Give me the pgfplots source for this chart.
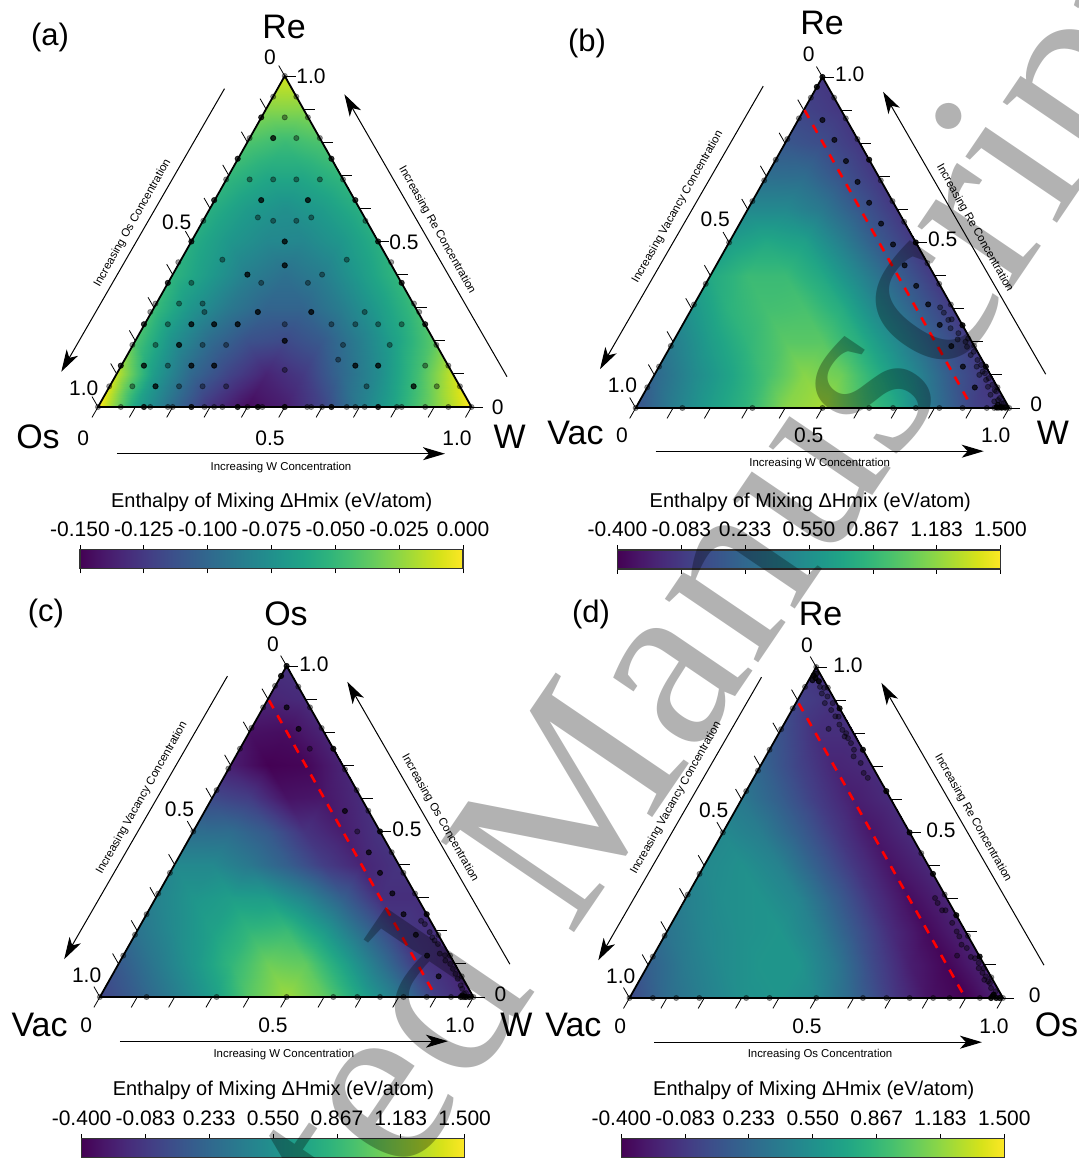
\documentclass[border=0pt]{standalone}
\usepackage{fontspec}
\setmainfont{Liberation Sans}
\newfontfamily\wmfont{Liberation Serif}
\usepackage{pgfplots}
\usepackage{pgfplotstable}
\pgfplotsset{compat=1.18}
\usetikzlibrary{arrows.meta}
\definecolor{wm}{gray}{0.70}

% triangular lattice (x along the base, y = top component); enthalpy in eV/atom per panel
\pgfplotstableread{
x y va vb vc vd
0 0 0 .08 -.02 .02
.1 0 -.063 .40 .17 .27
.2 0 -.098 .65 .40 .42
.3 0 -.128 .85 .65 .55
.4 0 -.146 1.16 1.01 .59
.5 0 -.138 1.25 1.22 .49
.6 0 -.12 .97 1.04 .21
.7 0 -.087 .74 .70 -.08
.8 0 -.06 .32 .36 -.31
.9 0 -.03 -.02 -.06 -.40
1 0 0 -.13 -.21 -.21
.05 .1 -.015 .23 .13 .17
.15 .1 -.068 .49 .36 .38
.25 .1 -.1 .70 .59 .51
.35 .1 -.12 .93 .85 .59
.45 .1 -.135 1.16 1.08 .59
.55 .1 -.125 1.08 1.04 .36
.65 .1 -.1 .78 .70 .02
.75 .1 -.078 .46 .32 -.25
.85 .1 -.048 .11 -.08 -.38
.95 .1 -.012 -.12 -.21 -.21
.1 .2 -.042 .40 .32 .32
.2 .2 -.075 .65 .51 .47
.3 .2 -.098 .85 .68 .55
.4 .2 -.113 1.01 .85 .59
.5 .2 -.117 1.01 .89 .42
.6 .2 -.108 .78 .63 .11
.7 .2 -.087 .49 .28 -.17
.8 .2 -.063 .17 -.08 -.36
.9 .2 -.038 -.08 -.15 -.21
.15 .3 -.048 .59 .44 .42
.25 .3 -.072 .82 .59 .53
.35 .3 -.09 .93 .66 .57
.45 .3 -.102 .95 .65 .46
.55 .3 -.102 .78 .46 .17
.65 .3 -.087 .47 .17 -.12
.75 .3 -.068 .17 -.15 -.34
.85 .3 -.048 -.08 -.15 -.21
.2 .4 -.053 .74 .49 .49
.3 .4 -.069 .89 .49 .55
.4 .4 -.086 .89 .36 .44
.5 .4 -.095 .74 .17 .17
.6 .4 -.087 .46 -.06 -.10
.7 .4 -.069 .17 -.21 -.31
.8 .4 -.051 -.08 -.12 -.19
.25 .5 -.057 .65 .28 .49
.35 .5 -.071 .74 .27 .40
.45 .5 -.08 .68 .13 .17
.55 .5 -.081 .42 -.12 -.08
.65 .5 -.071 .13 -.25 -.29
.75 .5 -.056 -.10 -.12 -.17
.3 .6 -.056 .49 .02 .36
.4 .6 -.068 .49 -.06 .17
.5 .6 -.075 .36 -.31 -.06
.6 .6 -.068 .11 -.29 -.25
.7 .6 -.056 -.10 -.17 -.17
.35 .7 -.051 .28 -.25 .21
.45 .7 -.06 .27 -.40 -.02
.55 .7 -.06 .08 -.38 -.21
.65 .7 -.051 -.10 -.21 -.17
.4 .8 -.042 .11 -.32 .08
.5 .8 -.048 .04 -.34 -.15
.6 .8 -.042 -.10 -.21 -.15
.45 .9 -.027 -.02 -.21 -.04
.55 .9 -.027 -.10 -.17 -.13
.5 1 -.01 -.10 -.13 -.12
}\lattice

\pgfplotsset{conn/.style={table/row sep=\\,patch table={
0 1 11\\1 2 12\\2 3 13\\3 4 14\\4 5 15\\5 6 16\\6 7 17\\7 8 18\\8 9 19\\9 10 20\\
1 12 11\\2 13 12\\3 14 13\\4 15 14\\5 16 15\\6 17 16\\7 18 17\\8 19 18\\9 20 19\\
11 12 21\\12 13 22\\13 14 23\\14 15 24\\15 16 25\\16 17 26\\17 18 27\\18 19 28\\19 20 29\\
12 22 21\\13 23 22\\14 24 23\\15 25 24\\16 26 25\\17 27 26\\18 28 27\\19 29 28\\
21 22 30\\22 23 31\\23 24 32\\24 25 33\\25 26 34\\26 27 35\\27 28 36\\28 29 37\\
22 31 30\\23 32 31\\24 33 32\\25 34 33\\26 35 34\\27 36 35\\28 37 36\\
30 31 38\\31 32 39\\32 33 40\\33 34 41\\34 35 42\\35 36 43\\36 37 44\\
31 39 38\\32 40 39\\33 41 40\\34 42 41\\35 43 42\\36 44 43\\
38 39 45\\39 40 46\\40 41 47\\41 42 48\\42 43 49\\43 44 50\\
39 46 45\\40 47 46\\41 48 47\\42 49 48\\43 50 49\\
45 46 51\\46 47 52\\47 48 53\\48 49 54\\49 50 55\\
46 52 51\\47 53 52\\48 54 53\\49 55 54\\
51 52 56\\52 53 57\\53 54 58\\54 55 59\\
52 57 56\\53 58 57\\54 59 58\\
56 57 60\\57 58 61\\58 59 62\\57 61 60\\58 62 61\\
60 61 63\\61 62 64\\61 64 63\\63 64 65\\
}}}

% faint points
\pgfplotstableread{
x y
.5 1
.469 .9375
.531 .9375
.437 .875
.5 .875
.562 .875
.406 .8125
.469 .8125
.531 .8125
.594 .8125
.374 .75
.625 .75
.343 .6875
.406 .6875
.469 .6875
.531 .6875
.594 .6875
.656 .6875
.311 .625
.437 .625
.562 .625
.689 .625
.282 .5625
.469 .5625
.531 .5625
.716 .5625
.428 .5726
.571 .5726
.25 .5
.5 .5
.75 .5
.215 .4375
.333 .445
.666 .445
.5 .428
.785 .4375
.4 .4
.6 .4
.187 .375
.25 .375
.437 .375
.562 .375
.813 .375
.154 .3125
.217 .3125
.28 .3125
.846 .3125
.14 .287
.285 .287
.428 .287
.571 .287
.714 .287
.86 .287
.123 .25
.187 .25
.25 .25
.311 .25
.374 .25
.5 .25
.625 .25
.689 .25
.75 .25
.813 .25
.876 .25
.092 .1875
.154 .1875
.217 .1875
.28 .1875
.343 .1875
.5 .2
.656 .1875
.781 .1875
.906 .1875
.061 .125
.123 .125
.187 .125
.25 .125
.311 .125
.643 .143
.689 .125
.75 .125
.876 .125
.938 .125
.5 .112
.03 .0625
.092 .0625
.154 .0625
.217 .0625
.28 .0625
.343 .0625
.719 .0625
.845 .0625
.907 .0625
.969 .0625
0 0
.061 0
.123 0
.14 0
.187 0
.2 0
.25 0
.285 0
.311 0
.333 0
.374 0
.4 0
.428 0
.44 0
.5 0
.56 0
.571 0
.6 0
.625 0
.666 0
.689 0
.714 0
.75 0
.8 0
.813 0
.876 0
.938 0
1 0
}\ptsA
\pgfplotstableread{
x y
.469 .8125
.437 .625
.562 .625
.5 .5
.25 .5
.75 .5
.5 .428
.4 .4
.187 .375
.813 .375
.374 .75
.625 .75
.311 .625
.689 .625
.437 .875
.123 .25
.25 .25
.374 .25
.311 .25
.876 .25
.217 .1875
.5 .2
.061 .125
.123 .125
.25 .125
.311 .125
.75 .125
.689 .125
.154 .0625
.845 .0625
.428 .287
.571 .287
.123 0
.25 0
.374 0
.428 0
.5 0
.625 0
.75 0
}\darkA

% points of panel b
\pgfplotstableread{
x y
.5 1
.485 .97
.469 .9375
.437 .875
.406 .8125
.375 .75
.344 .6875
.3125 .625
.25 .5
.1875 .375
.156 .3125
.094 .1875
.0625 .125
.031 .0625
0 0
.125 0
.3125 0
.5 0
.625 0
.689 0
.75 0
.813 0
.875 0
.94 0
.96 0
.97 0
.98 0
.99 0
1 0
.5312 .9375
.5625 .875
.5937 .8125
.625 .75
.6562 .6875
.6875 .625
.7187 .5625
.75 .5
.7812 .4375
.8125 .375
.8437 .3125
.875 .25
.9062 .1875
.9375 .125
.9687 .0625
.815 .304
.825 .288
.837 .266
.846 .268
.843 .241
.864 .226
.862 .207
.883 .2
.887 .185
.897 .16
.915 .145
.913 .125
.929 .11
.938 .085
.943 .064
.961 .054
.97 .024
.98 .014
.966 .002
.98 .002
.989 .002
.92 .1
.95 .04
.96 .02
.89 .21
.905 .17
.925 .13
.935 .105
.945 .09
.955 .07
.965 .05
.975 .03
.985 .015
}\ptsB
\pgfplotstableread{
x y
.5 .87
.532 .81
.563 .746
.594 .683
.625 .62
.657 .557
.689 .494
.72 .431
.751 .369
.783 .313
.814 .251
.845 .187
.876 .125
.908 .062
.75 .5
.875 .25
.9375 .125
.625 .75
.5 1
.485 .97
.966 .002
.98 .002
.989 .002
.97 .01
.975 .002
}\darkB

% points of panel c
\pgfplotstableread{
x y
.5 1
.485 .97
.469 .94
.437 .875
.406 .813
.375 .75
.344 .69
.3125 .625
.25 .5
.1875 .375
.156 .3125
.125 .25
.094 .188
.0625 .125
0 0
.125 0
.3125 0
.5 0
.625 0
.689 0
.75 0
.813 0
.875 0
.94 0
.97 0
.98 0
.99 0
1 0
.5312 .9375
.5625 .875
.5937 .8125
.625 .75
.6562 .6875
.6875 .625
.7187 .5625
.75 .5
.7812 .4375
.8125 .375
.8437 .3125
.875 .25
.9062 .1875
.9375 .125
.9687 .0625
.86 .23
.883 .196
.896 .171
.91 .131
.924 .126
.938 .1
.952 .07
.966 .035
.975 .01
.562 .75
.689 .5
.87 .22
.89 .18
.905 .16
.925 .11
.945 .085
.958 .055
.97 .025
.98 .012
}\ptsC
\pgfplotstableread{
x y
.5 .875
.532 .81
.656 .562
.72 .437
.75 .375
.783 .313
.813 .25
.846 .188
.876 .125
.907 .0625
.75 .5
.875 .25
.625 .75
.5 1
.485 .97
.966 0
.98 0
.989 0
.97 .005
.975 0
}\darkC

% points of panel d
\pgfplotstableread{
x y
.5 1
.493 .974
.498 .967
.507 .957
.521 .937
.53 .911
.523 .891
.544 .891
.551 .851
.562 .826
.533 .813
.576 .79
.585 .785
.593 .77
.601 .75
.619 .71
.627 .68
.638 .665
.5312 .9375
.5625 .875
.625 .75
.6875 .625
.75 .5
.7812 .4375
.8125 .375
.8437 .3125
.875 .25
.9062 .1875
.9375 .125
.9687 .0625
.25 .5
.3125 .625
.344 .687
.375 .75
.406 .812
.437 .875
.47 .94
.1875 .375
.156 .3125
.094 .188
.0625 .125
0 0
.0625 0
.125 0
.187 0
.3125 0
.375 0
.5 0
.625 0
.688 0
.75 0
.813 0
.857 0
.938 0
.968 0
.982 0
.991 0
1 0
.818 .302
.825 .287
.837 .265
.846 .265
.864 .227
.876 .201
.883 .186
.889 .161
.903 .151
.914 .124
.877 .128
.935 .106
.945 .076
.954 .065
.968 .03
.975 .01
.925 .12
.935 .09
.948 .09
.96 .05
.95 .055
.965 .045
.98 .02
.51 .94
.515 .92
.54 .87
.56 .85
.57 .81
.58 .8
.6 .73
}\ptsD
\pgfplotstableread{
x y
.493 .974
.498 .967
.5 .98
.49 .96
.507 .957
.5625 .875
.625 .75
.6875 .625
.75 .5
.8125 .375
.875 .25
.9375 .125
.968 0
.982 0
.991 0
.975 .01
.972 .005
}\darkD

\newcommand\lab[4]{\node[font=#3,inner sep=0pt] at ({#1*0.5pt},{(1158-#2)*0.5pt}) {#4};}
\newcommand\tickf{\fontsize{10.5}{12}\selectfont}
\newcommand\elemf{\fontsize{17}{20}\selectfont}
\newcommand\letf{\fontsize{15.5}{20}\selectfont}
\newcommand\smf{\fontsize{5.7}{7}\selectfont}
\newcommand\ttlf{\fontsize{10}{12}\selectfont}
\newcommand\ox[1]{{(#1+\dX)/373.5}}
\newcommand\oy[1]{{(#1+\dY)/331}}

% #1 left px, #2 base px, #3 value column, #4 min, #5 max, #6 colorbar options, #7 left text, #8 right text, #9 extras
\newcommand\Tern[9]{%
\begin{axis}[at={({#1*0.5pt},{(1158-#2)*0.5pt})},anchor=south west,
  scale only axis,width=186.75pt,height=165.5pt,xmin=0,xmax=1,ymin=0,ymax=1,
  axis lines=none,clip=false,colormap/viridis,
  point meta min=#4,point meta max=#5,
  colorbar horizontal,
  colorbar style={#6,anchor=south west,width=191.5pt,height=9.5pt,
    xticklabel pos=upper,xtick align=outside,
    xticklabel style={font=\tickf,inner sep=1.5pt,yshift=2.5pt},
    major tick length=2.3pt,tick style={black,line width=.4pt},
    axis line style={line width=.6pt,black!80}},
]
\addplot[patch,shader=interp,conn,point meta=explicit] table[x=x,y=y,meta=#3] {\lattice};
\draw[line width=.9pt,black] (0,0)--(1,0)--(.5,1)--cycle;
\pgfplotsinvokeforeach{0,1,2,3,4,5,6,7,8,9,10}{%
  \draw[line width=.4pt,black] ({##1/20},{##1/10}) -- ++(-3pt,5.2pt);
  \draw[line width=.4pt,black] ({1-##1/20},{##1/10}) -- ++(5.6pt,0);
  \draw[line width=.4pt,black] ({##1/10},0) -- ++(-3pt,-5.2pt);
}
#9
\node[font=\tickf,inner sep=0pt] at (\ox{172},\oy{350}) {0};
\node[font=\tickf,inner sep=0pt] at (\ox{213},\oy{330.5}) {1.0};
\node[font=\tickf,inner sep=0pt] at (\ox{78.6},\oy{185}) {0.5};
\node[font=\tickf,inner sep=0pt] at (\ox{306},\oy{165}) {0.5};
\node[font=\tickf,inner sep=0pt] at (\ox{-14.3},\oy{19}) {1.0};
\node[font=\tickf,inner sep=0pt] at (\ox{399.6},\oy{0}) {0};
\node[font=\tickf,inner sep=0pt] at (\ox{-14.7},\oy{-31}) {0};
\node[font=\tickf,inner sep=0pt] at (\ox{172},\oy{-31}) {0.5};
\node[font=\tickf,inner sep=0pt] at (\ox{359},\oy{-31}) {1.0};
\draw[line width=.6pt,-{Stealth[length=11pt,width=6.5pt,inset=3pt]}] (\ox{19},\oy{-46.7}) -- (\ox{347},\oy{-46.7});
\draw[line width=.5pt,-{Stealth[length=11pt,width=6.5pt,inset=3pt]}] (\ox{126.5},\oy{318.3}) -- (\ox{-36.7},\oy{35.3});
\draw[line width=.5pt,-{Stealth[length=11pt,width=6.5pt,inset=3pt]}] (\ox{409},\oy{30.3}) -- (\ox{246.4},\oy{312.7});
#7
#8
\end{axis}}

\begin{document}
\begin{tikzpicture}
\useasboundingbox (0,0) rectangle (539.5pt,579pt);

% ---------- (a)
\def\dX{0}\def\dY{0}
\Tern{98}{407}{va}{-0.15}{0}
 {at={(-.0482,-.4885)},xtick={-0.15,-0.125,-0.1,-0.075,-0.05,-0.025,0},
  xticklabels={-0.150,-0.125,-0.100,-0.075,-0.050,-0.025,0.000}}
 {\node[font=\smf,rotate=60.5,inner sep=0pt] at ({34.6/373.5},{184/331}) {Increasing Os Concentration};}
 {\node[font=\smf,rotate=-60.5,inner sep=0pt] at ({339/373.5},{177/331}) {Increasing Re Concentration};
  \node[font=\smf,inner sep=0pt] at ({183/373.5},{-60.2/331}) {Increasing W Concentration};}
 {\addplot[only marks,mark=*,mark size=1.3pt,black,opacity=.38,mark options={draw=none}] table[x=x,y=y] {\ptsA};
  \addplot[only marks,mark=*,mark size=1.3pt,black,opacity=.6,mark options={draw=none}] table[x=x,y=y] {\darkA};}

% ---------- (b)
\def\dX{1}\def\dY{3.5}
\Tern{635.7}{408}{vb}{-0.4}{1.5}
 {at={(-.0487,-.4864)},xtick={-0.4,-0.083,0.233,0.55,0.867,1.183,1.5},
  xticklabels={-0.400,-0.083,0.233,0.550,0.867,1.183,1.500}}
 {\node[font=\smf,rotate=60.5,inner sep=0pt] at ({42/373.5},{201/331}) {Increasing Vacancy Concentration};}
 {\node[font=\smf,rotate=-60.5,inner sep=0pt] at ({339/373.5},{180/331}) {Increasing Re Concentration};
  \node[font=\smf,inner sep=0pt] at ({184/373.5},{-55.5/331}) {Increasing W Concentration};}
 {\addplot[red,line width=1.3pt,dash pattern=on 4.5pt off 4pt] coordinates {(.452,.9) (.897,.009)};
  \addplot[only marks,mark=*,mark size=1.3pt,black,opacity=.38,mark options={draw=none}] table[x=x,y=y] {\ptsB};
  \addplot[only marks,mark=*,mark size=1.3pt,black,opacity=.7,mark options={draw=none}] table[x=x,y=y] {\darkB};}

% ---------- (c)
\def\dX{1}\def\dY{2.5}
\Tern{99.9}{997}{vc}{-0.4}{1.5}
 {at={(-.049,-.4855)},xtick={-0.4,-0.083,0.233,0.55,0.867,1.183,1.5},
  xticklabels={-0.400,-0.083,0.233,0.550,0.867,1.183,1.500}}
 {\node[font=\smf,rotate=60.5,inner sep=0pt] at ({42/373.5},{199/331}) {Increasing Vacancy Concentration};}
 {\node[font=\smf,rotate=-60.5,inner sep=0pt] at ({340/373.5},{179/331}) {Increasing Os Concentration};
  \node[font=\smf,inner sep=0pt] at ({184/373.5},{-57.5/331}) {Increasing W Concentration};}
 {\addplot[red,line width=1.3pt,dash pattern=on 4.5pt off 4pt] coordinates {(.453,.896) (.895,.01)};
  \addplot[only marks,mark=*,mark size=1.3pt,black,opacity=.38,mark options={draw=none}] table[x=x,y=y] {\ptsC};
  \addplot[only marks,mark=*,mark size=1.3pt,black,opacity=.7,mark options={draw=none}] table[x=x,y=y] {\darkC};}

% ---------- (d)
\def\dX{5.5}\def\dY{2.5}
\Tern{629.5}{998}{vd}{-0.4}{1.5}
 {at={(-.022,-.4825)},xtick={-0.4,-0.083,0.233,0.55,0.867,1.183,1.5},
  xticklabels={-0.400,-0.083,0.233,0.550,0.867,1.183,1.500}}
 {\node[font=\smf,rotate=60.5,inner sep=0pt] at ({46.5/373.5},{200/331}) {Increasing Vacancy Concentration};}
 {\node[font=\smf,rotate=-60.5,inner sep=0pt] at ({343.5/373.5},{180/331}) {Increasing Re Concentration};
  \node[font=\smf,inner sep=0pt] at ({190.5/373.5},{-56.5/331}) {Increasing Os Concentration};}
 {\addplot[red,line width=1.3pt,dash pattern=on 4.5pt off 4pt] coordinates {(.453,.89) (.896,.007)};
  \addplot[only marks,mark=*,mark size=1.3pt,black,opacity=.38,mark options={draw=none}] table[x=x,y=y] {\ptsD};
  \addplot[only marks,mark=*,mark size=1.3pt,black,opacity=.7,mark options={draw=none}] table[x=x,y=y] {\darkD};}

% ---------- labels
\lab{284}{27}{\elemf}{Re}
\lab{38}{437}{\elemf}{Os}
\lab{509.6}{437}{\elemf}{W}
\lab{50}{37}{\letf}{(a)}
\lab{271.7}{502}{\ttlf}{Enthalpy of Mixing ΔHmix (eV/atom)}

\lab{822}{22.7}{\elemf}{Re}
\lab{575.5}{433}{\elemf}{Vac}
\lab{1053}{433}{\elemf}{W}
\lab{587}{43}{\letf}{(b)}
\lab{810.3}{502}{\ttlf}{Enthalpy of Mixing ΔHmix (eV/atom)}

\lab{286}{614}{\elemf}{Os}
\lab{39.6}{1025}{\elemf}{Vac}
\lab{516.5}{1025}{\elemf}{W}
\lab{46}{613}{\letf}{(c)}
\lab{273.4}{1090.5}{\ttlf}{Enthalpy of Mixing ΔHmix (eV/atom)}

\lab{820.6}{614}{\elemf}{Re}
\lab{573.4}{1025}{\elemf}{Vac}
\lab{1056.5}{1025}{\elemf}{Os}
\lab{591}{614}{\letf}{(d)}
\lab{813.8}{1090.5}{\ttlf}{Enthalpy of Mixing ΔHmix (eV/atom)}

% ---------- watermark
\begin{scope}[blend mode=multiply]
\node[text=wm,rotate=55.8,font=\wmfont\fontsize{123}{123}\selectfont,inner sep=0pt] at ({558.5*0.5pt},{(1158-852)*0.5pt}) {Accepted Manuscript};
\end{scope}
\end{tikzpicture}
\end{document}
